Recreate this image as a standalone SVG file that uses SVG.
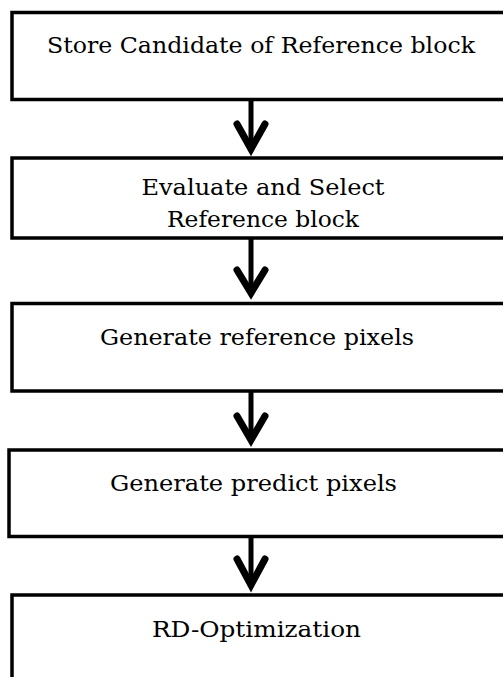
<svg xmlns="http://www.w3.org/2000/svg" width="503" height="677" viewBox="0 0 503 677">
<style>
.box{fill:#fff;stroke:#000;stroke-width:3.5}
.lbl{font-family:"DejaVu Serif","Liberation Serif",serif;font-size:22px;fill:#000;text-anchor:middle}
.shaft{stroke:#000;stroke-width:5;fill:none}
.head{stroke:#000;stroke-width:7;fill:none;stroke-linecap:round;stroke-linejoin:miter;stroke-miterlimit:10}
</style>
<rect width="503" height="677" fill="#fff"/>
<g id="connectors">
<path class="shaft" d="M251,100 V150"/>
<path class="head" d="M237,124 L251,149 L265,124"/>
<path class="shaft" d="M251,239 V292"/>
<path class="head" d="M237,270 L251,293 L265,270"/>
<path class="shaft" d="M251,392 V440"/>
<path class="head" d="M237,416 L251,440 L265,416"/>
<path class="shaft" d="M251,537 V585"/>
<path class="head" d="M237,559 L251,585 L265,559"/>
</g>
<g id="n1">
<rect class="box" x="12" y="12.5" width="500" height="87"/>
<text class="lbl" x="261" y="53" textLength="428" lengthAdjust="spacingAndGlyphs">Store Candidate of Reference block</text>
</g>
<g id="n2">
<rect class="box" x="12" y="158" width="500" height="80"/>
<text class="lbl" x="263" y="195" textLength="243" lengthAdjust="spacingAndGlyphs">Evaluate and Select</text>
<text class="lbl" x="263" y="227" textLength="192" lengthAdjust="spacingAndGlyphs">Reference block</text>
</g>
<g id="n3">
<rect class="box" x="12" y="303.5" width="500" height="87.5"/>
<text class="lbl" x="257" y="345" textLength="314" lengthAdjust="spacingAndGlyphs">Generate reference pixels</text>
</g>
<g id="n4">
<rect class="box" x="9" y="450" width="500" height="86.5"/>
<text class="lbl" x="253.5" y="491" textLength="287" lengthAdjust="spacingAndGlyphs">Generate predict pixels</text>
</g>
<g id="n5">
<rect class="box" x="12" y="595" width="500" height="100"/>
<text class="lbl" x="256.5" y="637" textLength="209" lengthAdjust="spacingAndGlyphs">RD-Optimization</text>
</g>
</svg>
